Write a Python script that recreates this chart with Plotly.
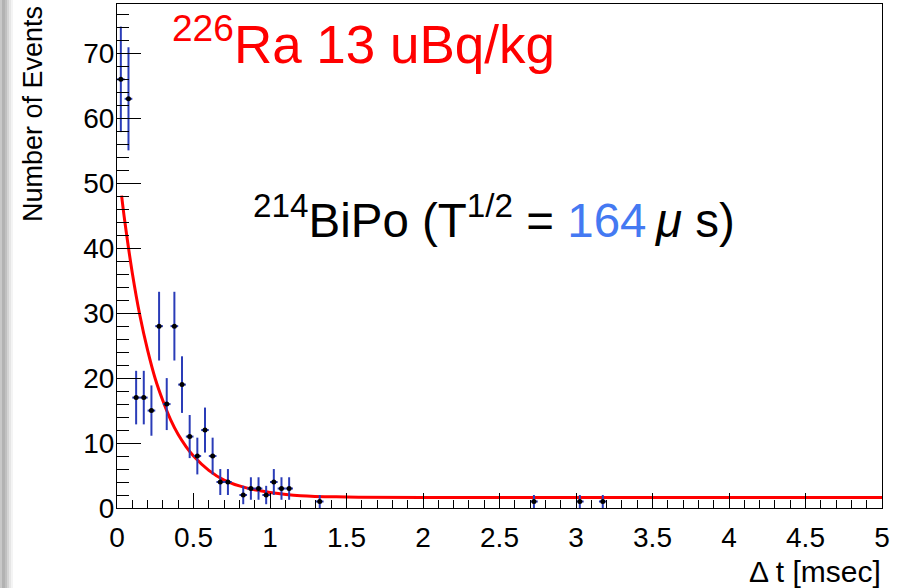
import numpy as np
import plotly.graph_objects as go

# ---- data ----
bin_centers = [0.025, 0.075, 0.125, 0.175, 0.225, 0.275, 0.325, 0.375, 0.425, 0.475,
               0.525, 0.575, 0.625, 0.675, 0.725, 0.825, 0.875, 0.925, 0.975, 1.025,
               1.075, 1.125, 1.325, 2.725, 3.025, 3.175]
counts = [66, 63, 17, 17, 15, 28, 16, 28, 19, 11,
          8, 12, 8, 4, 4, 2, 3, 3, 2, 4,
          3, 3, 1, 1, 1, 1]
bin_half_width = 0.025

fit_x = [0.03, 0.05, 0.1, 0.15, 0.2, 0.25, 0.3, 0.35, 0.4, 0.45, 0.5, 0.6, 0.7, 0.8,
         0.9, 1.0, 1.2, 1.5, 2.0, 5.0]
fit_y = [48.1, 44.3, 36.2, 29.6, 24.3, 19.9, 16.5, 13.6, 11.3, 9.5, 8.0, 5.8, 4.3, 3.4,
         2.8, 2.4, 1.9, 1.7, 1.6, 1.6]

x_tickvals = [0, 0.5, 1, 1.5, 2, 2.5, 3, 3.5, 4, 4.5, 5]
x_ticktext = ["0", "0.5", "1", "1.5", "2", "2.5", "3", "3.5", "4", "4.5", "5"]
y_tickvals = [0, 10, 20, 30, 40, 50, 60, 70]
y_ticktext = ["0", "10", "20", "30", "40", "50", "60", "70"]

title_ra = "<sup>226</sup>Ra 13 uBq/kg"
title_bipo = ("<sup>214</sup>BiPo (T<sup>1/2</sup> = "
              "<span style='color:#4479f2'>164</span>\u2009<i>\u03bc</i> s)")
x_title = "\u0394 t [msec]"
y_title = "Number of Events"

# ---- geometry ----
W, H = 898, 588
L, R, T, B = 117, 16, 4, 80
PW, PH = W - L - R, H - T - B


def px(p):
    return (p - L) / PW


def py(p):
    return (H - B - p) / PH


FONT = "Liberation Sans, Arial, Helvetica, sans-serif"

fig = go.Figure()

fig.add_trace(go.Scatter(
    x=fit_x, y=fit_y, mode="lines", line=dict(color="#ff0000", width=3, shape="spline"),
    hoverinfo="skip", showlegend=False))

fig.add_trace(go.Scatter(
    x=bin_centers, y=counts, mode="markers",
    marker=dict(color="black", size=5),
    error_y=dict(type="data", array=list(np.sqrt(counts)), color="#2a3cb8", thickness=2, width=0),
    error_x=dict(type="constant", value=bin_half_width, color="#2a3cb8", thickness=2, width=0),
    showlegend=False))

fig.update_layout(
    width=W, height=H,
    margin=dict(l=L, r=R, t=T, b=B, pad=0),
    paper_bgcolor="white", plot_bgcolor="white",
    font=dict(family=FONT, color="black", size=28),
    showlegend=False,
    xaxis=dict(range=[0, 5], tickvals=x_tickvals, ticktext=x_ticktext,
               ticks="inside", ticklen=15, tickwidth=1, tickcolor="black",
               minor=dict(dtick=0.1, ticks="inside", ticklen=8, tickwidth=1, tickcolor="black"),
               showline=True, linecolor="black", linewidth=1, mirror=True,
               showgrid=False, zeroline=False, tickfont=dict(size=28),
               ticklabelstandoff=4),
    yaxis=dict(range=[0, 77.6], tickvals=y_tickvals, ticktext=y_ticktext,
               ticks="inside", ticklen=24, tickwidth=1, tickcolor="black",
               minor=dict(dtick=2, ticks="inside", ticklen=12, tickwidth=1, tickcolor="black"),
               showline=True, linecolor="black", linewidth=1, mirror=True,
               showgrid=False, zeroline=False, tickfont=dict(size=28),
               ticklabelstandoff=-4),
)

annotations = [
    dict(text=title_ra, x=px(170), y=py(41), xref="paper", yref="paper",
         xanchor="left", yanchor="middle", showarrow=False,
         font=dict(size=53, color="#ff0000", family=FONT)),
    dict(text=title_bipo, x=px(251), y=py(217), xref="paper", yref="paper",
         xanchor="left", yanchor="middle", showarrow=False,
         font=dict(size=47.5, color="black", family=FONT)),
    dict(text=y_title, x=px(33), y=py(4), xref="paper", yref="paper",
         xanchor="center", yanchor="top", textangle=-90, showarrow=False,
         font=dict(size=27, color="black", family=FONT)),
    dict(text=x_title, x=px(883), y=py(571), xref="paper", yref="paper",
         xanchor="right", yanchor="middle", showarrow=False,
         font=dict(size=30, color="black", family=FONT)),
]
fig.update_layout(annotations=annotations)

# left window-edge shadow strip
shadow = [(0, 2, "#c8c8c8"), (2, 5, "#b2b2b2"), (5, 7, "#c0c0c0"), (7, 9, "#d4d4d4"),
          (9, 11, "#e6e6e6"), (11, 13, "#f4f4f4")]
shapes = []
for x0, x1, c in shadow:
    shapes.append(dict(type="rect", xref="paper", yref="paper", x0=px(x0), x1=px(x1),
                       y0=py(H), y1=py(0), fillcolor=c, line=dict(width=0), layer="below"))
fig.update_layout(shapes=shapes)

fig.write_html("out.html")
